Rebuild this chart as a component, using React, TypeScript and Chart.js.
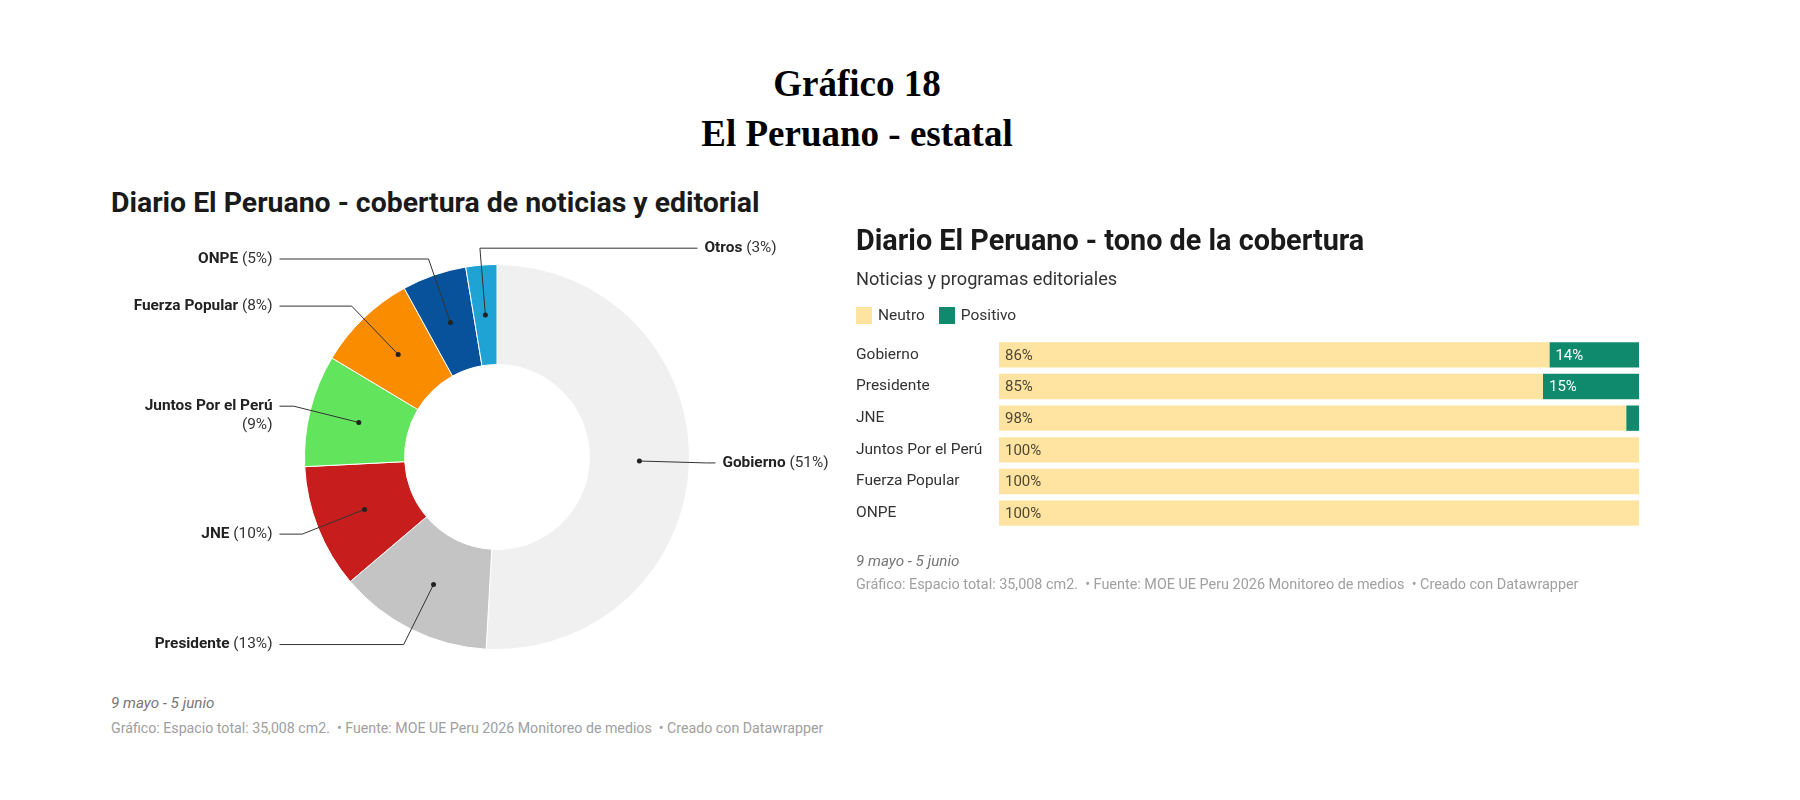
import { useEffect, useRef } from "react";
import { Chart, registerables } from "chart.js";

Chart.register(...registerables);

// donut: share of coverage (rounded labels: 51, 13, 10, 9, 8, 5, 3)
const donutLabels = ["Gobierno", "Presidente", "JNE", "Juntos Por el Perú", "Fuerza Popular", "ONPE", "Otros"];
const donutValues = [50.9, 12.9, 10.4, 9.4, 8.4, 5.4, 2.6];
const donutColors = ["#f0f0f0", "#c4c4c4", "#c71e1d", "#62e55c", "#fa8c00", "#08529b", "#1fa3d4"];

// bars: tone of coverage
const toneCategories = ["Gobierno", "Presidente", "JNE", "Juntos Por el Perú", "Fuerza Popular", "ONPE"];
const neutroValues = [86, 85, 98, 100, 100, 100];
const positivoValues = [14, 15, 2, 0, 0, 0];
const toneSeries = ["Neutro", "Positivo"];
const toneColors = ["#fee4a0", "#0f8a6c"];

const sans = "Roboto, 'Noto Sans', sans-serif";
const source = "Gráfico: Espacio total: 35,008 cm2. \u00a0• Fuente: MOE UE Peru 2026 Monitoreo de medios \u00a0• Creado con Datawrapper";

const donutLabelPlugin = {
  id: "donutLabels",
  afterDraw(chart: any) {
    const ctx = chart.ctx;
    const meta = chart.getDatasetMeta(0);
    const values = chart.data.datasets[0].data;
    ctx.save();
    meta.data.forEach((arc: any, i: number) => {
      const { x: cx, y: cy, startAngle, endAngle, innerRadius, outerRadius } = arc.getProps(
        ["x", "y", "startAngle", "endAngle", "innerRadius", "outerRadius"],
        true
      );
      const mid = (startAngle + endAngle) / 2;
      const cos = Math.cos(mid);
      const sin = Math.sin(mid);
      const rDot = (innerRadius + outerRadius) / 2;
      const dx = cx + cos * rDot;
      const dy = cy + sin * rDot;
      const rElbow = outerRadius + 17;
      const ex = cx + cos * rElbow;
      const ey = cy + sin * rElbow;
      const left = ex < cx - 30;
      const colX = left ? Math.min(cx - outerRadius - 25, ex - 9) : Math.max(cx + outerRadius + 8, ex + 9);

      ctx.strokeStyle = "#333";
      ctx.lineWidth = 1;
      ctx.beginPath();
      ctx.moveTo(dx, dy);
      ctx.lineTo(ex, ey);
      ctx.lineTo(colX, ey);
      ctx.stroke();
      ctx.fillStyle = "#222";
      ctx.beginPath();
      ctx.arc(dx, dy, 2.5, 0, Math.PI * 2);
      ctx.fill();

      const name = chart.data.labels[i];
      const pctText = "(" + Math.round(values[i]) + "%)";
      const boldFont = "bold 15.4px " + sans;
      const regFont = "15.4px " + sans;
      ctx.font = boldFont;
      const wName = ctx.measureText(name).width;
      ctx.font = regFont;
      const wPct = ctx.measureText(" " + pctText).width;
      const wPctOnly = ctx.measureText(pctText).width;
      const wrap = wName + wPct > 150;
      ctx.textBaseline = "middle";
      ctx.textAlign = "left";
      const tx = left ? colX - 7 : colX + 7;
      if (!wrap) {
        const x0 = left ? tx - (wName + wPct) : tx;
        ctx.font = boldFont;
        ctx.fillStyle = "#222";
        ctx.fillText(name, x0, ey);
        ctx.font = regFont;
        ctx.fillStyle = "#333";
        ctx.fillText(" " + pctText, x0 + wName, ey);
      } else {
        ctx.font = boldFont;
        ctx.fillStyle = "#222";
        ctx.fillText(name, left ? tx - wName : tx, ey);
        ctx.font = regFont;
        ctx.fillStyle = "#333";
        ctx.fillText(pctText, left ? tx - wPctOnly : tx, ey + 18.5);
      }
    });
    ctx.restore();
  },
};

const barLabelPlugin = {
  id: "barLabels",
  afterDatasetsDraw(chart: any) {
    const ctx = chart.ctx;
    ctx.save();
    ctx.font = "15px " + sans;
    ctx.textBaseline = "middle";
    ctx.textAlign = "left";
    chart.data.datasets.forEach((ds: any, di: number) => {
      const meta = chart.getDatasetMeta(di);
      meta.data.forEach((bar: any, i: number) => {
        const v = ds.data[i];
        if (v < 5) return;
        const { x, y, base } = bar.getProps(["x", "y", "base"], true);
        ctx.fillStyle = di === 0 ? "#4d4636" : "#ffffff";
        ctx.fillText(v + "%", Math.min(x, base) + 6, y + 1);
      });
    });
    ctx.restore();
  },
};

const DonutChart = () => {
  const canvasRef = useRef<HTMLCanvasElement | null>(null);
  useEffect(() => {
    if (!canvasRef.current) return;
    const chart = new Chart(canvasRef.current, {
      type: "doughnut",
      data: {
        labels: donutLabels,
        datasets: [
          {
            data: donutValues,
            backgroundColor: donutColors,
            borderColor: "#ffffff",
            borderWidth: 1,
          },
        ],
      },
      options: {
        responsive: false,
        animation: false,
        cutout: "48%",
        layout: { padding: { left: 204, right: 210, top: 24, bottom: 30 } },
        plugins: { legend: { display: false }, tooltip: { enabled: false } },
      },
      plugins: [donutLabelPlugin],
    });
    return () => chart.destroy();
  }, []);
  return <canvas ref={canvasRef} width={800} height={440} style={{ position: "absolute", left: 100, top: 240 }} />;
};

const ToneChart = () => {
  const canvasRef = useRef<HTMLCanvasElement | null>(null);
  useEffect(() => {
    if (!canvasRef.current) return;
    const chart = new Chart(canvasRef.current, {
      type: "bar",
      data: {
        labels: toneCategories,
        datasets: [
          { label: toneSeries[0], data: neutroValues, backgroundColor: toneColors[0] },
          { label: toneSeries[1], data: positivoValues, backgroundColor: toneColors[1] },
        ],
      },
      options: {
        indexAxis: "y",
        responsive: false,
        animation: false,
        layout: { padding: { left: 6, right: 11, top: 19, bottom: 21 } },
        datasets: { bar: { barPercentage: 0.8, categoryPercentage: 1 } },
        scales: {
          x: { stacked: true, min: 0, max: 100, display: false },
          y: {
            stacked: true,
            grid: { display: false },
            border: { display: false },
            afterFit: (axis: any) => {
              axis.width = 143;
            },
            ticks: { color: "#333", font: { family: sans, size: 15.5 }, crossAlign: "far", padding: 0 },
          },
        },
        plugins: { legend: { display: false }, tooltip: { enabled: false } },
      },
      plugins: [barLabelPlugin],
    });
    return () => chart.destroy();
  }, []);
  return <canvas ref={canvasRef} width={800} height={230} style={{ position: "absolute", left: 850, top: 320 }} />;
};

const abs = (left: number, top: number, extra: any = {}) => ({
  position: "absolute" as const,
  left,
  top,
  whiteSpace: "nowrap" as const,
  ...extra,
});

export default function App() {
  return (
    <div style={{ position: "absolute", left: 0, top: 0, width: 1800, height: 800, background: "#fff", fontFamily: sans }}>
      <div
        style={abs(557, 59, {
          width: 600,
          textAlign: "center",
          fontFamily: "'Liberation Serif', 'DejaVu Serif', serif",
          fontWeight: "bold",
          fontSize: 37,
          lineHeight: "50px",
          color: "#000",
        })}
      >
        Gráfico 18
        <br />
        El Peruano - estatal
      </div>

      <div style={abs(111, 188, { fontSize: 28.4, fontWeight: "bold", color: "#1a1a1a", lineHeight: "30px" })}>
        Diario El Peruano - cobertura de noticias y editorial
      </div>
      <DonutChart />
      <div style={abs(111, 694, { fontSize: 15.2, fontStyle: "italic", color: "#777", lineHeight: "18px" })}>9 mayo - 5 junio</div>
      <div style={abs(111, 719, { fontSize: 14.2, color: "#a0a0a0", lineHeight: "18px" })}>{source}</div>

      <div style={abs(856, 225, { fontSize: 28.8, fontWeight: "bold", color: "#1a1a1a", lineHeight: "30px" })}>
        Diario El Peruano - tono de la cobertura
      </div>
      <div style={abs(856, 268, { fontSize: 18.2, color: "#333", lineHeight: "22px" })}>Noticias y programas editoriales</div>
      <div style={abs(856, 306, { fontSize: 15.5, color: "#333", lineHeight: "18px", display: "flex", alignItems: "center" })}>
        {toneSeries.map((s, i) => (
          <span key={s} style={{ display: "flex", alignItems: "center", marginRight: 14 }}>
            <span style={{ display: "inline-block", width: 16, height: 17, background: toneColors[i], marginRight: 6 }} />
            {s}
          </span>
        ))}
      </div>
      <ToneChart />
      <div style={abs(856, 552, { fontSize: 15.2, fontStyle: "italic", color: "#777", lineHeight: "18px" })}>9 mayo - 5 junio</div>
      <div style={abs(856, 576, { fontSize: 14.4, color: "#a0a0a0", lineHeight: "18px" })}>{source}</div>
    </div>
  );
}
